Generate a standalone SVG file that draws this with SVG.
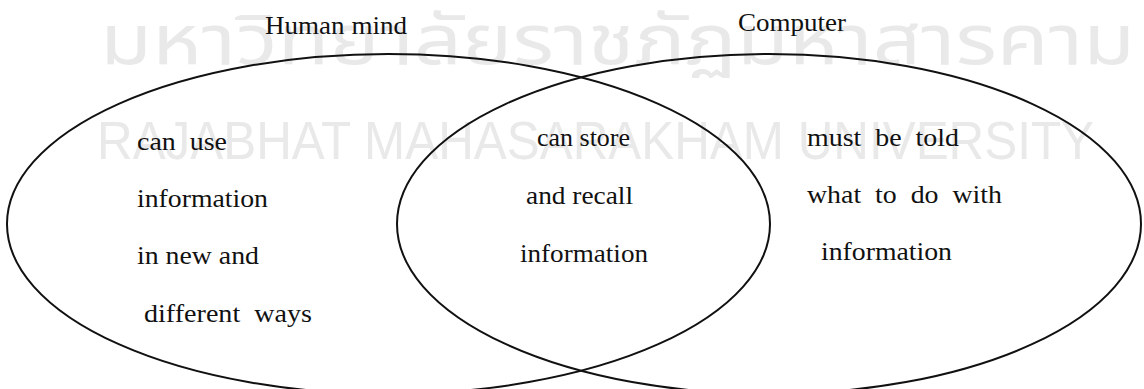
<svg xmlns="http://www.w3.org/2000/svg" width="1144" height="389" viewBox="0 0 1144 389">
  <style>
    .wm { fill: #e9e9e9; }
    .wmth { font-family: "Noto Sans Thai", "Noto Sans", "DejaVu Sans", sans-serif; font-size: 70px; }
    .wmen { font-family: "Liberation Sans", Arial, sans-serif; font-size: 53px; }
    .t { font-family: "Liberation Serif", "Times New Roman", serif; font-size: 25px; fill: #111; }
    .set { fill: none; stroke: #111; stroke-width: 2; }
  </style>
  <rect width="1144" height="389" fill="#ffffff"/>
  <g id="watermark">
    <text class="wm wmth" x="100" y="64" textLength="1035" lengthAdjust="spacingAndGlyphs">มหาวิทยาลัยราชภัฏมหาสารคาม</text>
    <text class="wm wmen" x="97" y="159" textLength="997" lengthAdjust="spacingAndGlyphs">RAJABHAT MAHASARAKHAM UNIVERSITY</text>
  </g>
  <g id="connectors"></g>
  <g id="human-mind">
    <ellipse class="set" cx="388.5" cy="224" rx="381.5" ry="170"/>
    <text class="t" x="265" y="34" textLength="142" lengthAdjust="spacingAndGlyphs">Human mind</text>
    <text class="t" x="137" y="150" textLength="90" lengthAdjust="spacingAndGlyphs" xml:space="preserve">can  use</text>
    <text class="t" x="137" y="207" textLength="131" lengthAdjust="spacingAndGlyphs">information</text>
    <text class="t" x="137" y="264" textLength="122" lengthAdjust="spacingAndGlyphs">in new and</text>
    <text class="t" x="144" y="322" textLength="168" lengthAdjust="spacingAndGlyphs" xml:space="preserve">different  ways</text>
  </g>
  <g id="computer">
    <ellipse class="set" cx="769" cy="224" rx="372" ry="170"/>
    <text class="t" x="738" y="31" textLength="108" lengthAdjust="spacingAndGlyphs">Computer</text>
    <text class="t" x="807" y="146" textLength="152" lengthAdjust="spacingAndGlyphs" xml:space="preserve">must  be  told</text>
    <text class="t" x="807" y="203" textLength="195" lengthAdjust="spacingAndGlyphs" xml:space="preserve">what  to  do  with</text>
    <text class="t" x="821" y="260" textLength="131" lengthAdjust="spacingAndGlyphs">information</text>
  </g>
  <g id="overlap">
    <text class="t" x="537" y="146" textLength="93" lengthAdjust="spacingAndGlyphs">can store</text>
    <text class="t" x="526" y="204" textLength="107" lengthAdjust="spacingAndGlyphs">and recall</text>
    <text class="t" x="520" y="262" textLength="128" lengthAdjust="spacingAndGlyphs">information</text>
  </g>
</svg>
